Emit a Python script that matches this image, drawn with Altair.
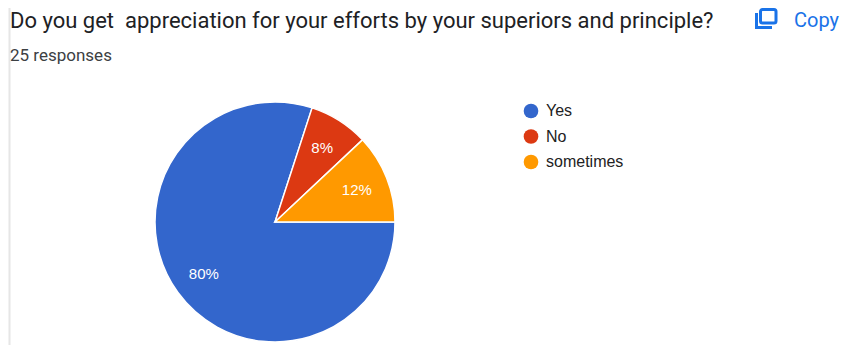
import altair as alt
import pandas as pd
import math

categories = ["Yes", "No", "sometimes"]
values = [80, 8, 12]
labels = ["80%", "8%", "12%"]
colors = ["#3366cc", "#dc3912", "#ff9900"]
title_text = "Do you get \u00a0appreciation for your efforts by your superiors and principle?"
sub_text = "25 responses"
copy_text = "Copy"

df = pd.DataFrame({"cat": categories, "val": values, "lab": labels,
                   "ord": list(range(len(categories)))})
one = pd.DataFrame({"a": [0]})

theta = alt.Theta("val:Q", stack=True,
                  scale=alt.Scale(range=[math.pi / 2, math.pi * 2.5]))
order = alt.Order("ord:Q")
color = alt.Color("cat:N", scale=alt.Scale(domain=categories, range=colors),
                  sort=categories,
                  legend=alt.Legend(title=None, orient="none", legendX=515, legendY=95,
                                    labelFont="Liberation Sans", labelFontSize=16,
                                    labelColor="#222222", symbolType="circle",
                                    symbolSize=215, symbolStrokeWidth=0,
                                    rowPadding=9.5, labelOffset=7,
                                    labelLimit=200))
cx, cy = alt.value(267), alt.value(214)

pie = alt.Chart(df).mark_arc(stroke="white", strokeWidth=1.5, outerRadius=120).encode(
    theta=theta, order=order, color=color, x=cx, y=cy)
pct = alt.Chart(df).mark_text(font="Liberation Sans", fontSize=15, color="white",
                              radius=88).encode(
    theta=theta, order=order, text="lab:N", x=cx, y=cy)


def text(s, x, y, size, col, font="Roboto"):
    return alt.Chart(pd.DataFrame({"t": [s]})).mark_text(
        font=font, fontSize=size, color=col, align="left", baseline="alphabetic"
    ).encode(text="t:N", x=alt.value(x), y=alt.value(y))


def rule(x, x2, y, y2, col, w):
    return alt.Chart(one).mark_rule(color=col, strokeWidth=w).encode(
        x=alt.value(x), x2=alt.value(x2), y=alt.value(y), y2=alt.value(y2))


blue = "#1a73e8"
icon_front = alt.Chart(one).mark_rect(stroke=blue, strokeWidth=3, fill=None,
                                      cornerRadius=2).encode(
    x=alt.value(752.5), x2=alt.value(768), y=alt.value(1.5), y2=alt.value(15))

chart = alt.layer(
    rule(1.5, 1.5, 0, 337, "#e6e6e6", 2),
    pie, pct,
    text(title_text, 2, 20, 22, "#202124"),
    text(sub_text, 2, 53, 17, "#3c4043"),
    text(copy_text, 786, 19, 20, blue),
    icon_front,
    rule(748.5, 748.5, 5, 19, blue, 3),
    rule(747, 764, 19.5, 19.5, blue, 3),
).properties(width=834, height=337, padding=0,
             autosize=alt.AutoSizeParams(type="none")
).configure_view(stroke=None)

chart.save("out.html", embed_options={"renderer": "svg", "actions": False})
